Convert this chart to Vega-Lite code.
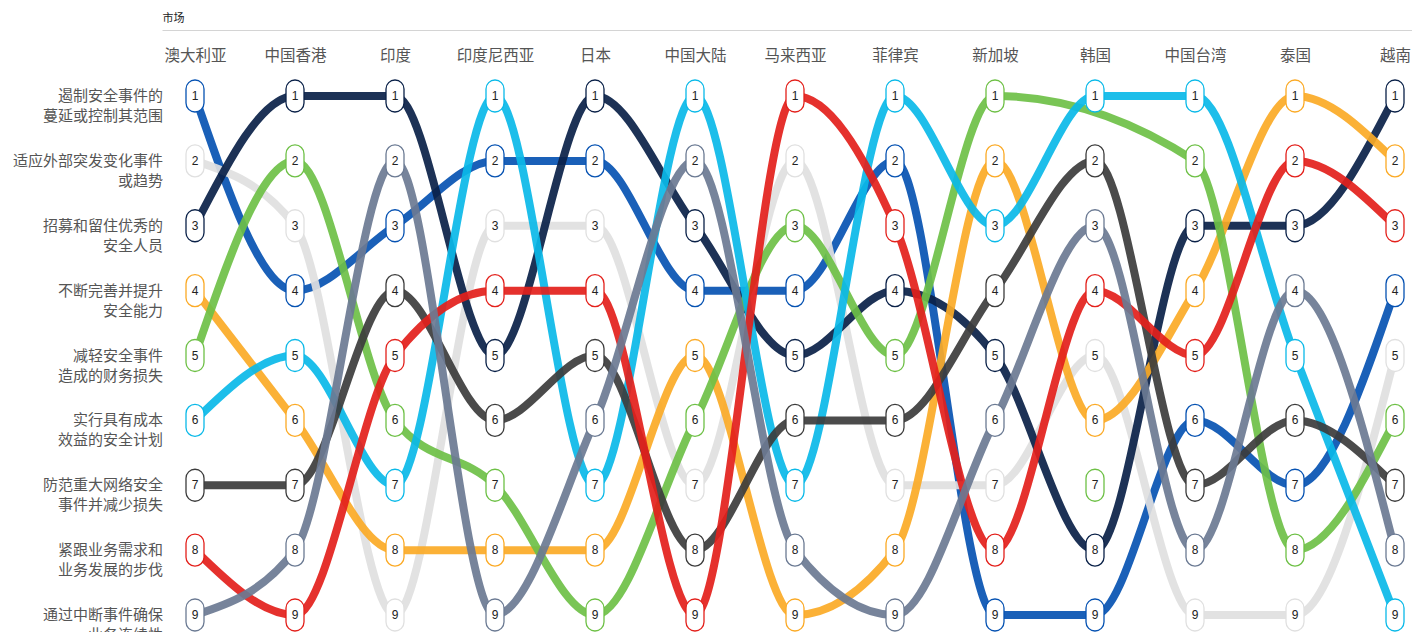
{
  "$schema": "https://vega.github.io/schema/vega-lite/v6.json",
  "width": 1266,
  "height": 519,
  "autosize": "none",
  "padding": {"left": 162, "top": 96, "right": 0, "bottom": 17},
  "background": "white",
  "config": {"view": {"stroke": null}, "font": "Noto Sans CJK SC"},
  "datasets": {
    "ranks": [
      {"m":"澳大利亚","i":0,"c":"A","r":1},{"m":"澳大利亚","i":0,"c":"B","r":2},{"m":"澳大利亚","i":0,"c":"C","r":3},{"m":"澳大利亚","i":0,"c":"D","r":4},{"m":"澳大利亚","i":0,"c":"E","r":5},{"m":"澳大利亚","i":0,"c":"F","r":6},{"m":"澳大利亚","i":0,"c":"G","r":7},{"m":"澳大利亚","i":0,"c":"H","r":8},{"m":"澳大利亚","i":0,"c":"I","r":9},
      {"m":"中国香港","i":1,"c":"A","r":4},{"m":"中国香港","i":1,"c":"B","r":3},{"m":"中国香港","i":1,"c":"C","r":1},{"m":"中国香港","i":1,"c":"D","r":6},{"m":"中国香港","i":1,"c":"E","r":2},{"m":"中国香港","i":1,"c":"F","r":5},{"m":"中国香港","i":1,"c":"G","r":7},{"m":"中国香港","i":1,"c":"H","r":9},{"m":"中国香港","i":1,"c":"I","r":8},
      {"m":"印度","i":2,"c":"A","r":3},{"m":"印度","i":2,"c":"B","r":9},{"m":"印度","i":2,"c":"C","r":1},{"m":"印度","i":2,"c":"D","r":8},{"m":"印度","i":2,"c":"E","r":6},{"m":"印度","i":2,"c":"F","r":7},{"m":"印度","i":2,"c":"G","r":4},{"m":"印度","i":2,"c":"H","r":5},{"m":"印度","i":2,"c":"I","r":2},
      {"m":"印度尼西亚","i":3,"c":"A","r":2},{"m":"印度尼西亚","i":3,"c":"B","r":3},{"m":"印度尼西亚","i":3,"c":"C","r":5},{"m":"印度尼西亚","i":3,"c":"D","r":8},{"m":"印度尼西亚","i":3,"c":"E","r":7},{"m":"印度尼西亚","i":3,"c":"F","r":1},{"m":"印度尼西亚","i":3,"c":"G","r":6},{"m":"印度尼西亚","i":3,"c":"H","r":4},{"m":"印度尼西亚","i":3,"c":"I","r":9},
      {"m":"日本","i":4,"c":"A","r":2},{"m":"日本","i":4,"c":"B","r":3},{"m":"日本","i":4,"c":"C","r":1},{"m":"日本","i":4,"c":"D","r":8},{"m":"日本","i":4,"c":"E","r":9},{"m":"日本","i":4,"c":"F","r":7},{"m":"日本","i":4,"c":"G","r":5},{"m":"日本","i":4,"c":"H","r":4},{"m":"日本","i":4,"c":"I","r":6},
      {"m":"中国大陆","i":5,"c":"A","r":4},{"m":"中国大陆","i":5,"c":"B","r":7},{"m":"中国大陆","i":5,"c":"C","r":3},{"m":"中国大陆","i":5,"c":"D","r":5},{"m":"中国大陆","i":5,"c":"E","r":6},{"m":"中国大陆","i":5,"c":"F","r":1},{"m":"中国大陆","i":5,"c":"G","r":8},{"m":"中国大陆","i":5,"c":"H","r":9},{"m":"中国大陆","i":5,"c":"I","r":2},
      {"m":"马来西亚","i":6,"c":"A","r":4},{"m":"马来西亚","i":6,"c":"B","r":2},{"m":"马来西亚","i":6,"c":"C","r":5},{"m":"马来西亚","i":6,"c":"D","r":9},{"m":"马来西亚","i":6,"c":"E","r":3},{"m":"马来西亚","i":6,"c":"F","r":7},{"m":"马来西亚","i":6,"c":"G","r":6},{"m":"马来西亚","i":6,"c":"H","r":1},{"m":"马来西亚","i":6,"c":"I","r":8},
      {"m":"菲律宾","i":7,"c":"A","r":2},{"m":"菲律宾","i":7,"c":"B","r":7},{"m":"菲律宾","i":7,"c":"C","r":4},{"m":"菲律宾","i":7,"c":"D","r":8},{"m":"菲律宾","i":7,"c":"E","r":5},{"m":"菲律宾","i":7,"c":"F","r":1},{"m":"菲律宾","i":7,"c":"G","r":6},{"m":"菲律宾","i":7,"c":"H","r":3},{"m":"菲律宾","i":7,"c":"I","r":9},
      {"m":"新加坡","i":8,"c":"A","r":9},{"m":"新加坡","i":8,"c":"B","r":7},{"m":"新加坡","i":8,"c":"C","r":5},{"m":"新加坡","i":8,"c":"D","r":2},{"m":"新加坡","i":8,"c":"E","r":1},{"m":"新加坡","i":8,"c":"F","r":3},{"m":"新加坡","i":8,"c":"G","r":4},{"m":"新加坡","i":8,"c":"H","r":8},{"m":"新加坡","i":8,"c":"I","r":6},
      {"m":"韩国","i":9,"c":"A","r":9},{"m":"韩国","i":9,"c":"B","r":5},{"m":"韩国","i":9,"c":"C","r":8},{"m":"韩国","i":9,"c":"D","r":6},{"m":"韩国","i":9,"c":"E","r":7},{"m":"韩国","i":9,"c":"F","r":1},{"m":"韩国","i":9,"c":"G","r":2},{"m":"韩国","i":9,"c":"H","r":4},{"m":"韩国","i":9,"c":"I","r":3},
      {"m":"中国台湾","i":10,"c":"A","r":6},{"m":"中国台湾","i":10,"c":"B","r":9},{"m":"中国台湾","i":10,"c":"C","r":3},{"m":"中国台湾","i":10,"c":"D","r":4},{"m":"中国台湾","i":10,"c":"E","r":2},{"m":"中国台湾","i":10,"c":"F","r":1},{"m":"中国台湾","i":10,"c":"G","r":7},{"m":"中国台湾","i":10,"c":"H","r":5},{"m":"中国台湾","i":10,"c":"I","r":8},
      {"m":"泰国","i":11,"c":"A","r":7},{"m":"泰国","i":11,"c":"B","r":9},{"m":"泰国","i":11,"c":"C","r":3},{"m":"泰国","i":11,"c":"D","r":1},{"m":"泰国","i":11,"c":"E","r":8},{"m":"泰国","i":11,"c":"F","r":5},{"m":"泰国","i":11,"c":"G","r":6},{"m":"泰国","i":11,"c":"H","r":2},{"m":"泰国","i":11,"c":"I","r":4},
      {"m":"越南","i":12,"c":"A","r":4},{"m":"越南","i":12,"c":"B","r":5},{"m":"越南","i":12,"c":"C","r":1},{"m":"越南","i":12,"c":"D","r":2},{"m":"越南","i":12,"c":"E","r":6},{"m":"越南","i":12,"c":"F","r":9},{"m":"越南","i":12,"c":"G","r":7},{"m":"越南","i":12,"c":"H","r":3},{"m":"越南","i":12,"c":"I","r":8}
    ],
    "labels": [
      {"c":"A","label":"遏制安全事件的\n蔓延或控制其范围"},
      {"c":"B","label":"适应外部突发变化事件\n或趋势"},
      {"c":"C","label":"招募和留住优秀的\n安全人员"},
      {"c":"D","label":"不断完善并提升\n安全能力"},
      {"c":"E","label":"减轻安全事件\n造成的财务损失"},
      {"c":"F","label":"实行具有成本\n效益的安全计划"},
      {"c":"G","label":"防范重大网络安全\n事件并减少损失"},
      {"c":"H","label":"紧跟业务需求和\n业务发展的步伐"},
      {"c":"I","label":"通过中断事件确保\n业务连续性"}
    ]
  },
  "data": {"name": "ranks"},
  "layer": [
    {
      "transform": [{"filter": "!(datum.m === '韩国' && datum.c === 'E')"}],
      "mark": {"type": "line", "strokeWidth": 8, "opacity": 0.92, "interpolate": "monotone", "strokeCap": "round"},
      "encoding": {
        "x": {"field": "m", "type": "ordinal", "sort": null,
          "scale": {"type": "point", "domain": ["澳大利亚","中国香港","印度","印度尼西亚","日本","中国大陆","马来西亚","菲律宾","新加坡","韩国","中国台湾","泰国","越南"], "padding": 0.33},
          "axis": {"orient": "top", "title": null, "domain": false, "ticks": false, "labelPadding": 33, "labelFontSize": 15.5, "labelColor": "#555555", "labelAngle": 0, "labelFont": "Noto Sans CJK SC"}},
        "y": {"field": "r", "type": "ordinal", "scale": {"type": "point", "domain": [1,2,3,4,5,6,7,8,9], "padding": 0}, "axis": null},
        "color": {"field": "c", "type": "nominal", "legend": null,
          "scale": {"domain": ["A","B","C","D","E","F","G","H","I"], "range": ["#0652b2","#e0e0e0","#0a2148","#fbaa26","#6ec046","#0ab9e8","#3c3c3c","#e3201b","#6b7a93"]}},
        "order": {"field": "i", "type": "quantitative"}
      }
    },
    {
      "mark": {"type": "point", "shape": "M-0.5625,-0.4375 A0.5625,0.5625 0 0 1 0.5625,-0.4375 L0.5625,0.4375 A0.5625,0.5625 0 0 1 -0.5625,0.4375 Z", "size": 1024, "filled": false, "fill": "white", "fillOpacity": 1, "strokeWidth": 1.3, "opacity": 1},
      "encoding": {
        "x": {"field": "m", "type": "ordinal", "sort": null,
          "scale": {"type": "point", "domain": ["澳大利亚","中国香港","印度","印度尼西亚","日本","中国大陆","马来西亚","菲律宾","新加坡","韩国","中国台湾","泰国","越南"], "padding": 0.33},
          "axis": {"orient": "top", "offset": 66, "domain": true, "domainColor": "#d4d4d4", "domainWidth": 1, "ticks": false, "labels": false, "grid": false, "title": "市场", "titleAnchor": "start", "titleAlign": "left", "titleFontSize": 11, "titleFontWeight": "normal", "titleColor": "#222222", "titlePadding": 7, "titleFont": "Noto Sans CJK SC"}},
        "y": {"field": "r", "type": "ordinal", "scale": {"type": "point", "domain": [1,2,3,4,5,6,7,8,9], "padding": 0}, "axis": null},
        "stroke": {"field": "c", "type": "nominal", "legend": null,
          "scale": {"domain": ["A","B","C","D","E","F","G","H","I"], "range": ["#0652b2","#e0e0e0","#0a2148","#fbaa26","#6ec046","#0ab9e8","#3c3c3c","#e3201b","#6b7a93"]}}
      }
    },
    {
      "mark": {"type": "text", "fontSize": 12, "font": "Liberation Sans", "color": "#222222", "baseline": "middle", "align": "center"},
      "encoding": {
        "x": {"field": "m", "type": "ordinal", "sort": null, "axis": null,
          "scale": {"type": "point", "domain": ["澳大利亚","中国香港","印度","印度尼西亚","日本","中国大陆","马来西亚","菲律宾","新加坡","韩国","中国台湾","泰国","越南"], "padding": 0.33}},
        "y": {"field": "r", "type": "ordinal", "scale": {"type": "point", "domain": [1,2,3,4,5,6,7,8,9], "padding": 0}, "axis": null},
        "text": {"field": "r", "type": "ordinal"}
      }
    },
    {
      "transform": [
        {"filter": "datum.m === '澳大利亚'"},
        {"lookup": "c", "from": {"data": {"name": "labels"}, "key": "c", "fields": ["label"]}}
      ],
      "mark": {"type": "text", "fontSize": 15, "font": "Noto Sans CJK SC", "color": "#555555", "align": "right", "baseline": "middle", "dx": -32, "lineBreak": "\n", "lineHeight": 20},
      "encoding": {
        "x": {"field": "m", "type": "ordinal", "sort": null, "axis": null,
          "scale": {"type": "point", "domain": ["澳大利亚","中国香港","印度","印度尼西亚","日本","中国大陆","马来西亚","菲律宾","新加坡","韩国","中国台湾","泰国","越南"], "padding": 0.33}},
        "y": {"field": "r", "type": "ordinal", "scale": {"type": "point", "domain": [1,2,3,4,5,6,7,8,9], "padding": 0}, "axis": null},
        "text": {"field": "label", "type": "nominal"}
      }
    }
  ],
  "resolve": {"axis": {"x": "independent"}}
}
